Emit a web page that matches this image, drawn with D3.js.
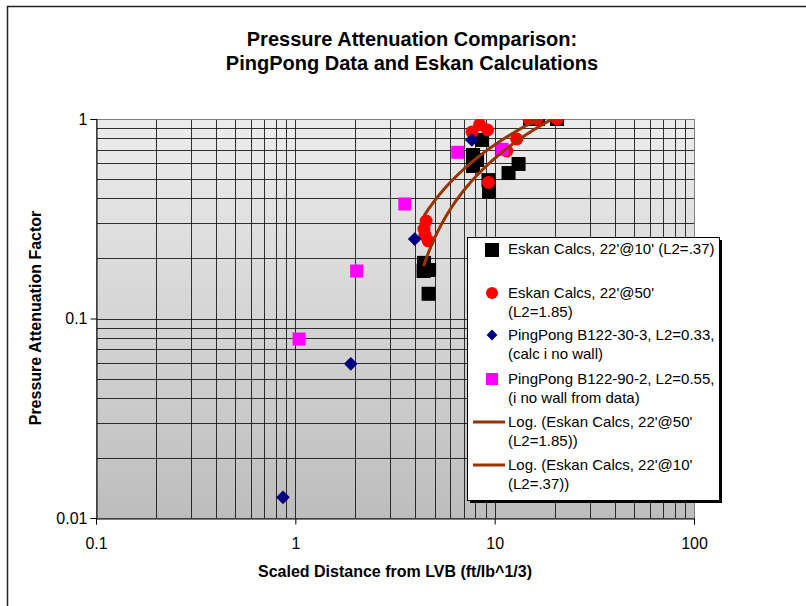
<!DOCTYPE html>
<html><head><meta charset="utf-8">
<script src="https://cdn.jsdelivr.net/npm/d3@7"></script>
<style>body{margin:0;background:#fff}svg{display:block;font-family:Arial,"Liberation Sans",sans-serif}</style>
</head><body><svg id="c" width="806" height="606"></svg>
<script>
// ---- data ----
const eskan10X = [4.42, 4.40, 4.69, 4.66, 7.79, 8.16, 7.79, 8.65, 9.31, 9.37, 11.74, 13.18, 15.05, 16.51, 20.56];
const eskan10Y = [0.190, 0.173, 0.175, 0.133, 0.660, 0.623, 0.581, 0.785, 0.494, 0.431, 0.536, 0.595, 1.0, 1.0, 1.0];
const eskan50X = [4.53, 4.42, 4.47, 4.64, 7.70, 8.40, 9.21, 9.31, 11.5, 12.9, 14.88, 16.26, 20.56];
const eskan50Y = [0.308, 0.281, 0.262, 0.245, 0.861, 0.938, 0.881, 0.481, 0.691, 0.794, 1.0, 1.0, 1.0];
const pp30X = [0.867, 1.897, 3.97, 7.68];
const pp30Y = [0.0127, 0.0593, 0.250, 0.785];
const pp90X = [1.044, 2.03, 3.54, 6.53, 10.9];
const pp90Y = [0.0789, 0.173, 0.375, 0.681, 0.705];
const xTicks = [0.1, 1, 10, 100];
const yTicks = [0.01, 0.1, 1];
const legendLabels = [
  ["Eskan Calcs, 22'@10' (L2=.37)"],
  ["Eskan Calcs, 22'@50'", "(L2=1.85)"],
  ["PingPong B122-30-3, L2=0.33,", "(calc i no wall)"],
  ["PingPong B122-90-2, L2=0.55,", "(i no wall from data)"],
  ["Log. (Eskan Calcs, 22'@50'", "(L2=1.85))"],
  ["Log. (Eskan Calcs, 22'@10'", "(L2=.37))"]
];

const svg = d3.select("#c");
const L = 96, R = 694, T = 119, B = 518;
const x = d3.scaleLog().domain([0.1, 100]).range([L, R]);
const y = d3.scaleLog().domain([0.01, 1]).range([B, T]);

// outer border
svg.append("path").attr("d", "M7.5,620V6.5H820").attr("fill", "none").attr("stroke", "#222").attr("stroke-width", 1.5);

// title
const title = svg.append("text").attr("text-anchor", "middle").attr("font-weight", "bold").attr("font-size", 20).attr("fill", "#000");
title.append("tspan").attr("x", 412).attr("y", 46).text("Pressure Attenuation Comparison:");
title.append("tspan").attr("x", 412).attr("y", 70).text("PingPong Data and Eskan Calculations");

// background gradient
const defs = svg.append("defs");
const g = defs.append("linearGradient").attr("id", "bg").attr("x1", 0).attr("y1", 0).attr("x2", 0).attr("y2", 1);
g.append("stop").attr("offset", 0).attr("stop-color", "#ececec");
g.append("stop").attr("offset", 1).attr("stop-color", "#bdbdbd");
defs.append("clipPath").attr("id", "clip").append("rect").attr("x", L).attr("y", T).attr("width", R - L).attr("height", B - T);
svg.append("rect").attr("x", L).attr("y", T).attr("width", R - L).attr("height", B - T).attr("fill", "url(#bg)");

// grid
const xGrid = [], yGrid = [];
[0.1, 1, 10].forEach(d => { for (let k = 1; k <= 9; k++) xGrid.push(d * k); });
xGrid.push(100);
[0.01, 0.1].forEach(d => { for (let k = 1; k <= 9; k++) yGrid.push(d * k); });
yGrid.push(1);
const grid = svg.append("g").attr("shape-rendering", "crispEdges");
grid.selectAll(".vx").data(xGrid).join("line").attr("x1", d => Math.round(x(d)) + 0.5).attr("x2", d => Math.round(x(d)) + 0.5)
  .attr("y1", T).attr("y2", B).attr("stroke", "#111").attr("stroke-opacity", 0.85);
grid.selectAll(".hy").data(yGrid).join("line").attr("y1", d => Math.round(y(d)) + 0.5).attr("y2", d => Math.round(y(d)) + 0.5)
  .attr("x1", L).attr("x2", R).attr("stroke", "#111").attr("stroke-opacity", 0.85);
svg.append("rect").attr("x", L + 0.5).attr("y", T + 0.5).attr("width", R - L).attr("height", B - T)
  .attr("fill", "none").attr("stroke", "#808080").attr("shape-rendering", "crispEdges");

// axes
const xAxis = d3.axisBottom(x).tickValues(xTicks).tickFormat(d => String(d)).tickSize(6).tickPadding(13);
const yAxis = d3.axisLeft(y).tickValues(yTicks).tickFormat(d => String(d)).tickSize(6).tickPadding(3);
const gx = svg.append("g").attr("transform", `translate(0,${B + 0.5})`).call(xAxis);
const gy = svg.append("g").attr("transform", `translate(${L + 0.5},0)`).call(yAxis);
[gx, gy].forEach(a => {
  a.select(".domain").attr("stroke", "#000");
  a.selectAll(".tick line").attr("stroke", "#000");
  a.selectAll("text").attr("font-size", 16).attr("fill", "#000").attr("font-family", "Arial, 'Liberation Sans', sans-serif");
});
gx.selectAll("text").attr("dy", "0.71em");

svg.append("text").attr("x", 395).attr("y", 577).attr("text-anchor", "middle").attr("font-weight", "bold").attr("font-size", 16)
  .text("Scaled Distance from LVB (ft/lb^1/3)");
svg.append("text").attr("transform", "translate(41,318) rotate(-90)").attr("text-anchor", "middle").attr("font-weight", "bold").attr("font-size", 16)
  .text("Pressure Attenuation Factor");

// series
const plot = svg.append("g").attr("clip-path", "url(#clip)");
const pts = (xs, ys) => xs.map((v, i) => [v, ys[i]]);
plot.append("g").selectAll("rect").data(pts(eskan10X, eskan10Y)).join("rect")
  .attr("x", d => x(d[0]) - 7).attr("y", d => y(d[1]) - 7).attr("width", 14).attr("height", 14).attr("fill", "#000");
plot.append("g").selectAll("circle").data(pts(eskan50X, eskan50Y)).join("circle")
  .attr("cx", d => x(d[0])).attr("cy", d => y(d[1])).attr("r", 6.5).attr("fill", "#ff0000");
const diamond = d3.symbol().type(d3.symbolDiamond2).size(120);
plot.append("g").selectAll("path").data(pts(pp30X, pp30Y)).join("path")
  .attr("transform", d => `translate(${x(d[0])},${y(d[1])})`).attr("d", diamond).attr("fill", "#000080");
plot.append("g").selectAll("rect").data(pts(pp90X, pp90Y)).join("rect")
  .attr("x", d => x(d[0]) - 6.5).attr("y", d => y(d[1]) - 6.5).attr("width", 13).attr("height", 13).attr("fill", "#ff00ff");

// logarithmic trendlines y = a ln x + b
function logFit(xs, ys) {
  const lx = xs.map(Math.log);
  const mx = d3.mean(lx), my = d3.mean(ys);
  let sxy = 0, sxx = 0;
  lx.forEach((v, i) => { sxy += (v - mx) * (ys[i] - my); sxx += (v - mx) * (v - mx); });
  const a = sxy / sxx, b = my - a * mx;
  const [lo, hi] = d3.extent(xs);
  const out = [];
  for (let i = 0; i <= 200; i++) {
    const xv = lo * Math.pow(hi / lo, i / 200);
    const yv = a * Math.log(xv) + b;
    if (yv > 0) out.push([xv, yv]);
  }
  return out;
}
const line = d3.line().x(d => x(d[0])).y(d => y(d[1]));
[logFit(eskan50X, eskan50Y), logFit(eskan10X, eskan10Y)].forEach(p => {
  plot.append("path").attr("d", line(p)).attr("fill", "none").attr("stroke", "#993300").attr("stroke-width", 3);
});

// legend
const lg = svg.append("g");
const lx0 = 467, ly0 = 237, lw = 252, lh = 263;
lg.append("rect").attr("x", lx0 + 3).attr("y", ly0 + 3).attr("width", lw).attr("height", lh).attr("fill", "#000");
lg.append("rect").attr("x", lx0 + 0.5).attr("y", ly0 + 0.5).attr("width", lw).attr("height", lh).attr("fill", "#fff").attr("stroke", "#000");
const rowY = [249, 293, 335, 379, 422, 465];
const symX = 492, txtX = 508;
legendLabels.forEach((lines, i) => {
  const t = lg.append("text").attr("font-size", 15).attr("fill", "#000");
  lines.forEach((s, j) => t.append("tspan").attr("x", txtX).attr("y", rowY[i] + 5 + j * 19).text(s));
});
lg.append("rect").attr("x", symX - 7).attr("y", rowY[0] - 6).attr("width", 14).attr("height", 14).attr("fill", "#000");
lg.append("circle").attr("cx", symX).attr("cy", rowY[1]).attr("r", 6).attr("fill", "#ff0000");
lg.append("path").attr("transform", `translate(${symX},${rowY[2]})`).attr("d", d3.symbol().type(d3.symbolDiamond2).size(75)).attr("fill", "#000080");
lg.append("rect").attr("x", symX - 6).attr("y", rowY[3] - 6).attr("width", 12).attr("height", 12).attr("fill", "#ff00ff");
[rowY[4], rowY[5]].forEach(yy => lg.append("line").attr("x1", 473).attr("x2", 505).attr("y1", yy).attr("y2", yy).attr("stroke", "#993300").attr("stroke-width", 3));
</script></body></html>
